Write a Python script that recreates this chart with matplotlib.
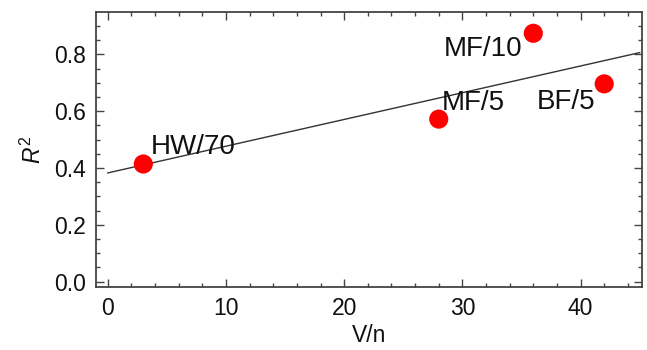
import numpy as np
import matplotlib
matplotlib.use("Agg")
import matplotlib.pyplot as plt
from matplotlib.ticker import MultipleLocator, FormatStrFormatter

plt.rcParams['font.family'] = ['Liberation Sans', 'DejaVu Sans']
plt.rcParams['mathtext.fontset'] = 'custom'
plt.rcParams['mathtext.rm'] = 'Liberation Sans'
plt.rcParams['mathtext.it'] = 'Liberation Sans:italic'

# Data
labels = ["HW/70", "MF/5", "MF/10", "BF/5"]
vn = [3, 28, 36, 42]
r2 = [0.414, 0.572, 0.874, 0.696]
label_x = [3.6, 28.25, 28.4, 36.3]
label_y = [0.474, 0.630, 0.820, 0.632]

fig = plt.figure(figsize=(6.47, 3.5), dpi=100)
ax = fig.add_axes([0.1484, 0.179, 0.9923 - 0.1484, 0.965 - 0.179])

# linear fit
slope, intercept = np.polyfit(vn, r2, 1)
xf = np.array([0, 45])
ax.plot(xf, slope * xf + intercept, color='#333333', lw=1.0, zorder=2)

ax.scatter(vn, r2, s=190, color='#ff0000', edgecolors='none', zorder=3)

for t, x, y in zip(labels, label_x, label_y):
    ax.text(x, y, t, ha='left', va='center', fontsize=20, color='#111111', zorder=4)

ax.set_xlim(-1, 45.2)
ax.set_ylim(-0.02, 0.948)
ax.xaxis.set_major_locator(MultipleLocator(10))
ax.xaxis.set_minor_locator(MultipleLocator(2))
ax.yaxis.set_major_locator(MultipleLocator(0.2))
ax.yaxis.set_minor_locator(MultipleLocator(0.05))
ax.yaxis.set_major_formatter(FormatStrFormatter('%.1f'))

for s in ax.spines.values():
    s.set_color('#444444')
    s.set_linewidth(1.3)
ax.tick_params(which='both', direction='in', top=True, right=True, colors='#444444',
               labelcolor='#111111', width=1.0)
ax.tick_params(which='major', length=6, labelsize=16.5, pad=7)
ax.tick_params(which='minor', length=3)

ax.set_xlabel('V/n', fontsize=16.5, color='#111111', labelpad=3)
ax.set_ylabel(r'$R^{2}$', fontsize=16.5, color='#111111', labelpad=6)

fig.savefig('out.png', dpi=100)
